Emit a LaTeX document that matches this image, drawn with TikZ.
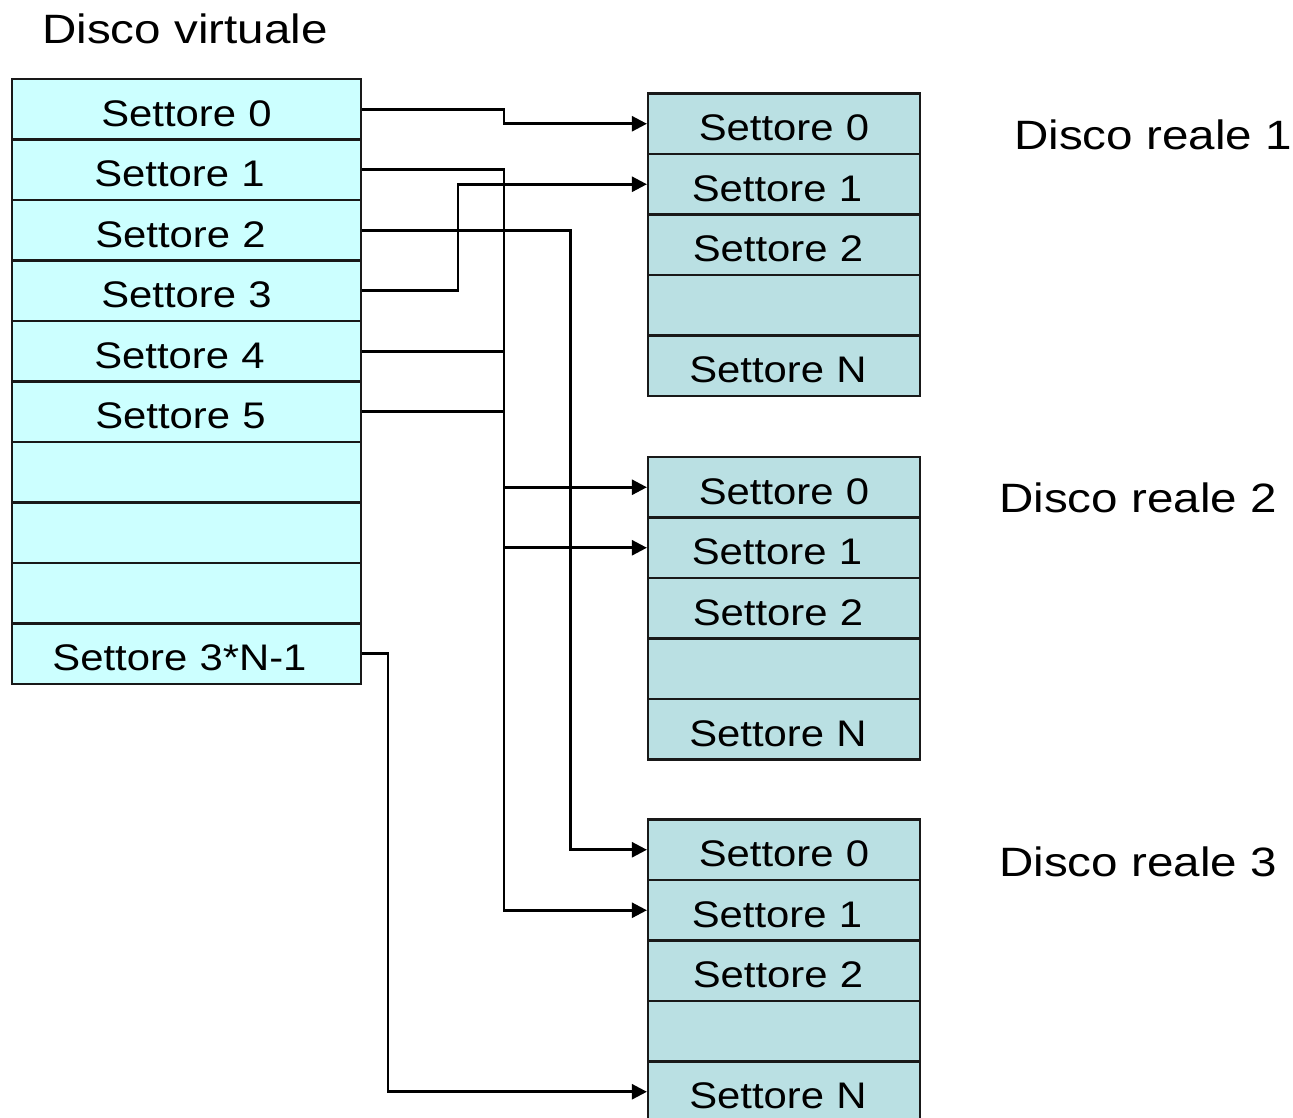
\documentclass[tikz,border=0pt]{standalone}
\usepackage{fontspec}
\setmainfont{Liberation Sans}[FakeStretch=1.13]
\newfontfamily\titlefont{Liberation Sans}[FakeStretch=1.16]
\usetikzlibrary{arrows.meta}
\definecolor{vfill}{HTML}{CCFFFF}
\definecolor{rfill}{HTML}{BAE0E3}
\begin{document}
\begin{tikzpicture}[x=1pt,y=-1pt,
  cell/.style={draw=black!90,line width=2.2pt,inner sep=0pt,minimum height=60.5pt,
    text height=34pt,text depth=0pt,font=\fontsize{37}{40}\selectfont},
  vcell/.style={cell,fill=vfill,minimum width=349pt},
  rcell/.style={cell,fill=rfill,minimum width=272pt},
  title/.style={anchor=base west,inner sep=0pt,font=\titlefont\fontsize{41}{44}\selectfont},
  conn/.style={line width=2.6pt,-{Triangle[length=15pt,width=15pt]}},
  link/.style={line width=2.6pt}]
\useasboundingbox (0,0) rectangle (1293,1117);
\clip (0,0) rectangle (1293,1117);
% virtual disk
\foreach \i/\t/\s in {0/Settore 0/0,1/Settore 1/-7,2/Settore 2/-6,3/Settore 3/0,4/Settore 4/-7,5/Settore 5/-6,6//0,7//0,8//0,9/Settore 3*N-1/-7}
  \node[vcell,text width=349pt,align=center] (v\i) at (186.5,{79+30.25+60.5*\i}) {\hspace*{\s pt}\hspace*{\s pt}\t};
% real disks
\foreach \d/\top in {a/93.5,b/457,c/819.5}
  \foreach \i/\t/\s in {0/Settore 0/0,1/Settore 1/-7,2/Settore 2/-6,3//0,4/Settore N/-6}
    \node[rcell,text width=272pt,align=center] (\d\i) at (784,{\top+30.25+60.5*\i}) {\hspace*{\s pt}\hspace*{\s pt}\t};
% titles
\node[title] (tv) at (42,43.5) {Disco virtuale};
\node[title] (t1) at (1014,149.3) {Disco reale 1};
\node[title] (t2) at (999,512.5) {Disco reale 2};
\node[title] (t3) at (999,876) {Disco reale 3};
% spines
\coordinate (sp1) at (504,0);
\coordinate (sp2) at (570.5,0);
\coordinate (sp3) at (458,0);
\coordinate (sp4) at (388,0);
% connectors
\draw[conn] (v0.east) -- (v0.east -| sp1) |- (a0.west);
\draw[conn] (v1.east) -- (v1.east -| sp1) |- (c1.west);
\draw[conn] (v2.east) -- (v2.east -| sp2) |- (c0.west);
\draw[conn] (v3.east) -- (v3.east -| sp3) |- (a1.west);
\draw[link] (v4.east) -- (v4.east -| sp1);
\draw[link] (v5.east) -- (v5.east -| sp1);
\draw[conn] (b0.west -| sp1) -- (b0.west);
\draw[conn] (b1.west -| sp1) -- (b1.west);
\draw[conn] (v9.east) -- (v9.east -| sp4) |- (c4.west);
\end{tikzpicture}
\end{document}
